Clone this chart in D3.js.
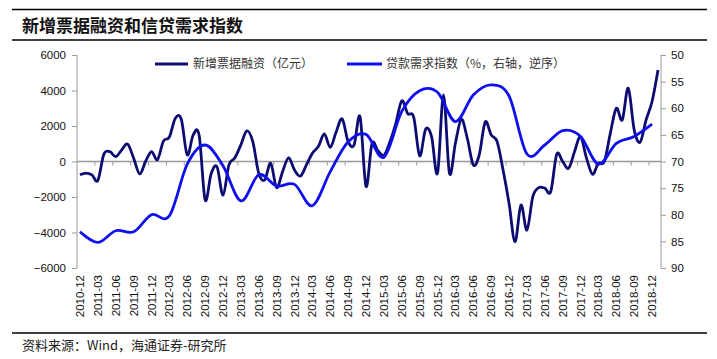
<!DOCTYPE html>
<html><head><meta charset="utf-8">
<script src="https://cdn.jsdelivr.net/npm/d3@7/dist/d3.min.js"></script>
<style>body{margin:0;background:#fff} svg{display:block}</style>
</head><body>
<svg id="c" width="717" height="359"></svg>
<script>
// ---------- data ----------
const months = [
 "2010-12",
 "2011-01","2011-02","2011-03","2011-04","2011-05","2011-06","2011-07","2011-08","2011-09","2011-10","2011-11","2011-12",
 "2012-01","2012-02","2012-03","2012-04","2012-05","2012-06","2012-07","2012-08","2012-09","2012-10","2012-11","2012-12",
 "2013-01","2013-02","2013-03","2013-04","2013-05","2013-06","2013-07","2013-08","2013-09","2013-10","2013-11","2013-12",
 "2014-01","2014-02","2014-03","2014-04","2014-05","2014-06","2014-07","2014-08","2014-09","2014-10","2014-11","2014-12",
 "2015-01","2015-02","2015-03","2015-04","2015-05","2015-06","2015-07","2015-08","2015-09","2015-10","2015-11","2015-12",
 "2016-01","2016-02","2016-03","2016-04","2016-05","2016-06","2016-07","2016-08","2016-09","2016-10","2016-11","2016-12",
 "2017-01","2017-02","2017-03","2017-04","2017-05","2017-06","2017-07","2017-08","2017-09","2017-10","2017-11","2017-12",
 "2018-01","2018-02","2018-03","2018-04","2018-05","2018-06","2018-07","2018-08","2018-09","2018-10","2018-11","2018-12",
 "2019-01"
];
// 新增票据融资（亿元）, monthly
const billFinancing = [
 -750,
 -650,-750,-1070,400,560,280,650,980,190,-700,0,560,
 100,1150,1380,2440,2380,370,1500,1460,-2160,-700,-300,-1900,
 -190,210,940,1720,1120,-660,-1040,-100,-1470,-570,210,-480,
 -820,-190,470,840,1550,800,1680,2400,1120,940,2520,-1400,
 1000,600,350,1100,2150,3420,2700,2500,320,1820,1400,-660,
 3750,-660,1030,2380,1300,-190,380,2230,1500,1120,-480,-2350,
 -4520,-2450,-3860,-1970,-1470,-1500,-1690,410,0,-380,560,1400,
 190,-720,-100,0,1600,3000,2340,4130,1780,1090,2340,3380,
 5150
];
// 贷款需求指数（%，右轴，逆序）, quarterly
const quarterMonths = [
 "2010-12","2011-03","2011-06","2011-09","2011-12","2012-03","2012-06","2012-09","2012-12",
 "2013-03","2013-06","2013-09","2013-12","2014-03","2014-06","2014-09","2014-12",
 "2015-03","2015-06","2015-09","2015-12","2016-03","2016-06","2016-09","2016-12",
 "2017-03","2017-06","2017-09","2017-12","2018-03","2018-06","2018-09","2018-12"
];
const loanDemand = [
 83.2,85.2,83.0,83.2,80.0,80.2,70.5,66.9,70.8,
 77.4,72.5,74.6,74.3,78.3,71.9,66.3,64.9,
 69.2,60.6,56.7,57.0,62.5,57.5,55.6,57.7,
 68.6,66.9,64.2,65.3,70.5,66.6,65.3,63.0
];
const leftTicks = [6000,4000,2000,0,-2000,-4000,-6000];
const rightTicks = [50,55,60,65,70,75,80,85,90];
const xTickLabels = quarterMonths;
const title = "新增票据融资和信贷需求指数";
const seriesNames = ["新增票据融资（亿元）","贷款需求指数（%，右轴，逆序）"];
const source = "资料来源：Wind，海通证券-研究所";

// ---------- layout ----------
const L = 77, R = 661, T = 55, B = 268;
const darkColor = "#0c0c72", blueColor = "#0f0fee", axisColor = "#9a9a9a";
const numFont = "'Liberation Sans', Arial, sans-serif";
const cjkFont = "'Noto Sans CJK SC', sans-serif";

const svg = d3.select("#c");
const x = d3.scalePoint().domain(months).range([L, R]).padding(0.5);
const step = x.step();
const yL = d3.scaleLinear().domain([-6000, 6000]).range([B, T]);
const yR = d3.scaleLinear().domain([50, 90]).range([T, B]);

// header / footer rules
svg.append("line").attr("x1",12).attr("x2",707).attr("y1",9.5).attr("y2",9.5).attr("stroke","#000").attr("stroke-width",1.5);
svg.append("line").attr("x1",12).attr("x2",707).attr("y1",40).attr("y2",40).attr("stroke","#000").attr("stroke-width",1.3);
svg.append("line").attr("x1",12).attr("x2",707).attr("y1",333).attr("y2",333).attr("stroke","#000").attr("stroke-width",1.3);

svg.append("text").attr("x",22).attr("y",31.5).attr("font-family",cjkFont).attr("font-weight",700)
  .attr("font-size",17).attr("fill","#111").text(title);
svg.append("text").attr("x",22).attr("y",345).attr("dy","0.35em").attr("font-family",cjkFont)
  .attr("font-size",13).attr("fill","#222").text(source);

// left axis
const gl = svg.append("g").attr("transform",`translate(${L},0)`)
  .call(d3.axisLeft(yL).tickValues(leftTicks).tickSize(5).tickPadding(6).tickFormat(d3.format("d")));
gl.select(".domain").attr("stroke",axisColor).attr("d",`M0,${T}V${B}`);
gl.selectAll(".tick line").attr("stroke",axisColor);
gl.selectAll(".tick text").attr("font-family",numFont).attr("font-size",11.5).attr("fill","#111");

// right axis
const gr = svg.append("g").attr("transform",`translate(${R},0)`)
  .call(d3.axisRight(yR).tickValues(rightTicks).tickSize(5).tickPadding(5));
gr.select(".domain").attr("stroke",axisColor).attr("d",`M0,${T}V${B}`);
gr.selectAll(".tick line").attr("stroke",axisColor);
gr.selectAll(".tick text").attr("font-family",numFont).attr("font-size",11.5).attr("fill","#111");

// zero line category axis
const y0 = yL(0);
svg.append("line").attr("x1",L).attr("x2",R).attr("y1",y0).attr("y2",y0).attr("stroke",axisColor).attr("stroke-width",1.3);
const tickIdx = d3.range(3, months.length, 3);
svg.append("g").selectAll("line").data(tickIdx).join("line")
  .attr("x1",i => x(months[i]) - step/2).attr("x2",i => x(months[i]) - step/2)
  .attr("y1",y0).attr("y2",y0+4).attr("stroke",axisColor);

// x labels at bottom
svg.append("g").selectAll("text").data(xTickLabels).join("text")
  .attr("transform",d => `translate(${x(d)},275) rotate(-90)`)
  .attr("text-anchor","end").attr("dy","0.35em")
  .attr("font-family",numFont).attr("font-size",11.5).attr("fill","#111").text(d => d);

// lines
const curve = d3.curveCatmullRom.alpha(0);
const lineL = d3.line().x(d => x(d.m)).y(d => yL(d.v)).curve(curve);
const lineR = d3.line().x(d => x(d.m)).y(d => yR(d.v)).curve(curve);
svg.append("path").datum(months.map((m,i)=>({m, v: billFinancing[i]})))
  .attr("d",lineL).attr("fill","none").attr("stroke",darkColor).attr("stroke-width",2.8).attr("stroke-linejoin","round");
svg.append("path").datum(quarterMonths.map((m,i)=>({m, v: loanDemand[i]})))
  .attr("d",lineR).attr("fill","none").attr("stroke",blueColor).attr("stroke-width",2.8).attr("stroke-linejoin","round");

// legend
const legend = [
  {x1:155, x2:188, tx:193, color:darkColor, name:seriesNames[0]},
  {x1:347, x2:382, tx:386, color:blueColor, name:seriesNames[1]}
];
const lg = svg.append("g");
lg.selectAll("line").data(legend).join("line")
  .attr("x1",d=>d.x1).attr("x2",d=>d.x2).attr("y1",64).attr("y2",64)
  .attr("stroke",d=>d.color).attr("stroke-width",2.8);
lg.selectAll("text").data(legend).join("text")
  .attr("x",d=>d.tx).attr("y",63.5).attr("dy","0.35em")
  .attr("font-family",cjkFont).attr("font-size",12).attr("fill","#333").text(d=>d.name);
</script>
</body></html>
